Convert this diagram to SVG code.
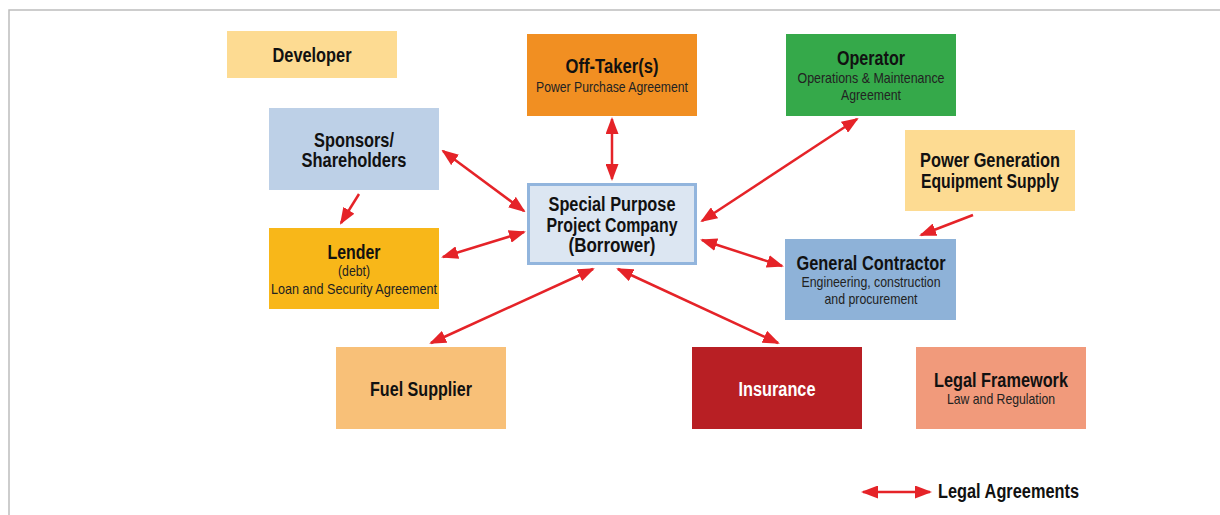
<svg xmlns="http://www.w3.org/2000/svg" width="1220" height="515" viewBox="0 0 1220 515">
<defs>
<style>
.t{font-family:"Liberation Sans",Arial,sans-serif;font-weight:bold;font-size:19.5px;fill:#111;text-anchor:middle}
.s{font-family:"Liberation Sans",Arial,sans-serif;font-size:14.5px;fill:#222;text-anchor:middle}
.a{stroke:#E52328;stroke-width:2.5;fill:none;marker-end:url(#h)}
.b{marker-start:url(#h)}
</style>
<marker id="h" markerUnits="userSpaceOnUse" markerWidth="17" markerHeight="13" refX="15" refY="6.5" orient="auto-start-reverse">
<path d="M0,0 L17,6.5 L0,13 Z" fill="#E52328"/>
</marker>
</defs>
<rect width="1220" height="515" fill="#fff"/>
<path d="M9,515 V10 H1220" fill="none" stroke="#BDBDBD" stroke-width="1.5"/>

<g id="developer"><rect x="227" y="31" width="170" height="47" fill="#FDDB92"/><text class="t" x="312" y="62" textLength="79" lengthAdjust="spacingAndGlyphs">Developer</text></g>
<g id="offtaker"><rect x="527" y="34" width="170" height="82" fill="#F18F22"/><text class="t" x="612" y="73" textLength="93" lengthAdjust="spacingAndGlyphs">Off-Taker(s)</text><text class="s" x="612" y="92" textLength="152" lengthAdjust="spacingAndGlyphs">Power Purchase Agreement</text></g>
<g id="operator"><rect x="786" y="34" width="170" height="82" fill="#35A94A"/><text class="t" x="871" y="65" textLength="68" lengthAdjust="spacingAndGlyphs">Operator</text><text class="s" x="871" y="83" textLength="147" lengthAdjust="spacingAndGlyphs">Operations &amp; Maintenance</text><text class="s" x="871" y="100" textLength="60" lengthAdjust="spacingAndGlyphs">Agreement</text></g>
<g id="sponsors"><rect x="269" y="108" width="170" height="82" fill="#BDD0E7"/><text class="t" x="354" y="147" textLength="80" lengthAdjust="spacingAndGlyphs">Sponsors/</text><text class="t" x="354" y="167" textLength="105" lengthAdjust="spacingAndGlyphs">Shareholders</text></g>
<g id="powergen"><rect x="905" y="130" width="170" height="81" fill="#FDDB92"/><text class="t" x="990" y="167" textLength="140" lengthAdjust="spacingAndGlyphs">Power Generation</text><text class="t" x="990" y="188" textLength="138" lengthAdjust="spacingAndGlyphs">Equipment Supply</text></g>
<g id="spv"><rect x="528.5" y="184.5" width="167" height="79" fill="#DCE6F2" stroke="#92B5DD" stroke-width="3"/><text class="t" x="612" y="211" textLength="127" lengthAdjust="spacingAndGlyphs">Special Purpose</text><text class="t" x="612" y="232" textLength="131" lengthAdjust="spacingAndGlyphs">Project Company</text><text class="t" x="612" y="252" textLength="87" lengthAdjust="spacingAndGlyphs">(Borrower)</text></g>
<g id="lender"><rect x="269" y="228" width="170" height="81" fill="#F8B719"/><text class="t" x="354" y="259" textLength="53" lengthAdjust="spacingAndGlyphs">Lender</text><text class="s" x="354" y="276" textLength="32" lengthAdjust="spacingAndGlyphs">(debt)</text><text class="s" x="354" y="294" textLength="166" lengthAdjust="spacingAndGlyphs">Loan and Security Agreement</text></g>
<g id="contractor"><rect x="785" y="239" width="171" height="81" fill="#8EB2D8"/><text class="t" x="871" y="270" textLength="149" lengthAdjust="spacingAndGlyphs">General Contractor</text><text class="s" x="871" y="287" textLength="139" lengthAdjust="spacingAndGlyphs">Engineering, construction</text><text class="s" x="871" y="304" textLength="93" lengthAdjust="spacingAndGlyphs">and procurement</text></g>
<g id="fuel"><rect x="336" y="347" width="170" height="82" fill="#F8C078"/><text class="t" x="421" y="396" textLength="102" lengthAdjust="spacingAndGlyphs">Fuel Supplier</text></g>
<g id="insurance"><rect x="692" y="347" width="170" height="82" fill="#B81F24"/><text class="t" x="777" y="396" textLength="77" lengthAdjust="spacingAndGlyphs" style="fill:#fff">Insurance</text></g>
<g id="legal"><rect x="916" y="347" width="170" height="82" fill="#F19A7B"/><text class="t" x="1001" y="387" textLength="134" lengthAdjust="spacingAndGlyphs">Legal Framework</text><text class="s" x="1001" y="404" textLength="108" lengthAdjust="spacingAndGlyphs">Law and Regulation</text></g>

<g id="connectors">
<line class="a b" x1="443" y1="151" x2="524" y2="211"/>
<line class="a b" x1="612" y1="119" x2="612" y2="179"/>
<line class="a b" x1="857" y1="119" x2="702" y2="221"/>
<line class="a" x1="973" y1="215" x2="921" y2="235"/>
<line class="a b" x1="702" y1="240" x2="782" y2="266"/>
<line class="a" x1="359" y1="194" x2="341" y2="223"/>
<line class="a b" x1="443" y1="257" x2="524" y2="232"/>
<line class="a b" x1="593" y1="269" x2="431" y2="343"/>
<line class="a b" x1="618" y1="269" x2="778" y2="343"/>
</g>
<g id="legend">
<line class="a b" x1="863" y1="492" x2="930" y2="492"/>
<text class="t" x="938" y="498" textLength="141" lengthAdjust="spacingAndGlyphs" style="text-anchor:start">Legal Agreements</text>
</g>
</svg>
